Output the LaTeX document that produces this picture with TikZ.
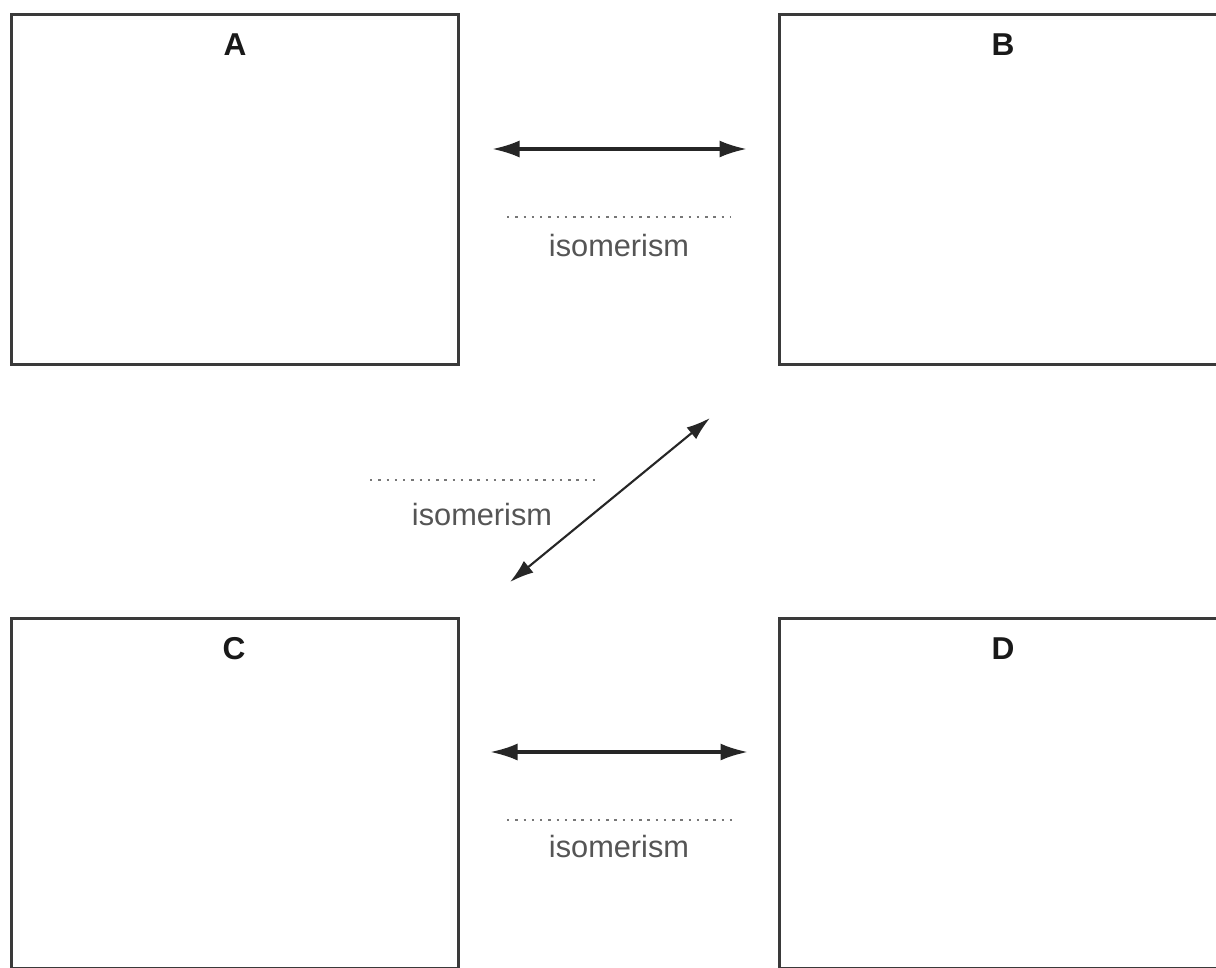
\documentclass[tikz,border=0pt]{standalone}
\usepackage{fontspec}
\setmainfont{Liberation Sans}
\usetikzlibrary{arrows.meta}
\definecolor{boxline}{HTML}{3A3A3A}
\definecolor{txtgray}{HTML}{555555}
\definecolor{dotgray}{HTML}{777777}
\tikzset{
  box/.style={draw=boxline, line width=1.7pt, minimum width=8.96cm, minimum height=7.02cm, inner sep=0pt, outer sep=0pt},
  boxlabel/.style={anchor=base, font=\fontsize{18}{20}\selectfont\bfseries, text=black!90, inner sep=0pt},
  isolabel/.style={anchor=base, font=\fontsize{17.5}{20}\selectfont, text=txtgray, inner sep=0pt},
  dotline/.style={draw=dotgray, line width=1.5pt, dash pattern=on 1.4pt off 3.3pt},
  dblarrow/.style={draw=black!85, line width=1.8pt, {Latex[length=0.55cm,width=0.34cm]}-{Latex[length=0.55cm,width=0.34cm]}},
  diagarrow/.style={draw=black!85, line width=1.2pt, {Latex[length=0.48cm,width=0.3cm]}-{Latex[length=0.48cm,width=0.3cm]}}
}
\begin{document}
\begin{tikzpicture}[x=0.02cm, y=-0.02cm]
\useasboundingbox (0,0) rectangle (1216,967);
\clip (0,0) rectangle (1216,967);
\fill[white] (0,0) rectangle (1216,967);
% boxes
\node[box] (A) at (235,189.5) {};
\node[box] (B) at (1003,189.5) {};
\node[box] (C) at (235,793.5) {};
\node[box] (D) at (1003,793.5) {};
% labels
\node[boxlabel] (la) at (235,55) {A};
\node[boxlabel] (lb) at (1003,55) {B};
\node[boxlabel] (lc) at (234,659) {C};
\node[boxlabel] (ld) at (1003,659) {D};
% top arrow
\coordinate (ab1) at (492,149);
\coordinate (ab2) at (747,149);
\draw[dblarrow] (ab1) -- (ab2);
\coordinate (dt1) at (507,217);
\coordinate (dt2) at (731,217);
\draw[dotline] (dt1) -- (dt2);
\node[isolabel] (it) at (619,256) {isomerism};
% diagonal arrow
\coordinate (cb1) at (510,582);
\coordinate (cb2) at (710,418);
\draw[diagarrow] (cb1) -- (cb2);
\coordinate (dm1) at (370,480);
\coordinate (dm2) at (597,480);
\draw[dotline] (dm1) -- (dm2);
\node[isolabel] (im) at (482,525) {isomerism};
% bottom arrow
\coordinate (cd1) at (490,752);
\coordinate (cd2) at (748,752);
\draw[dblarrow] (cd1) -- (cd2);
\coordinate (db1) at (507,820);
\coordinate (db2) at (732,820);
\draw[dotline] (db1) -- (db2);
\node[isolabel] (ib) at (619,857) {isomerism};
\end{tikzpicture}
\end{document}
